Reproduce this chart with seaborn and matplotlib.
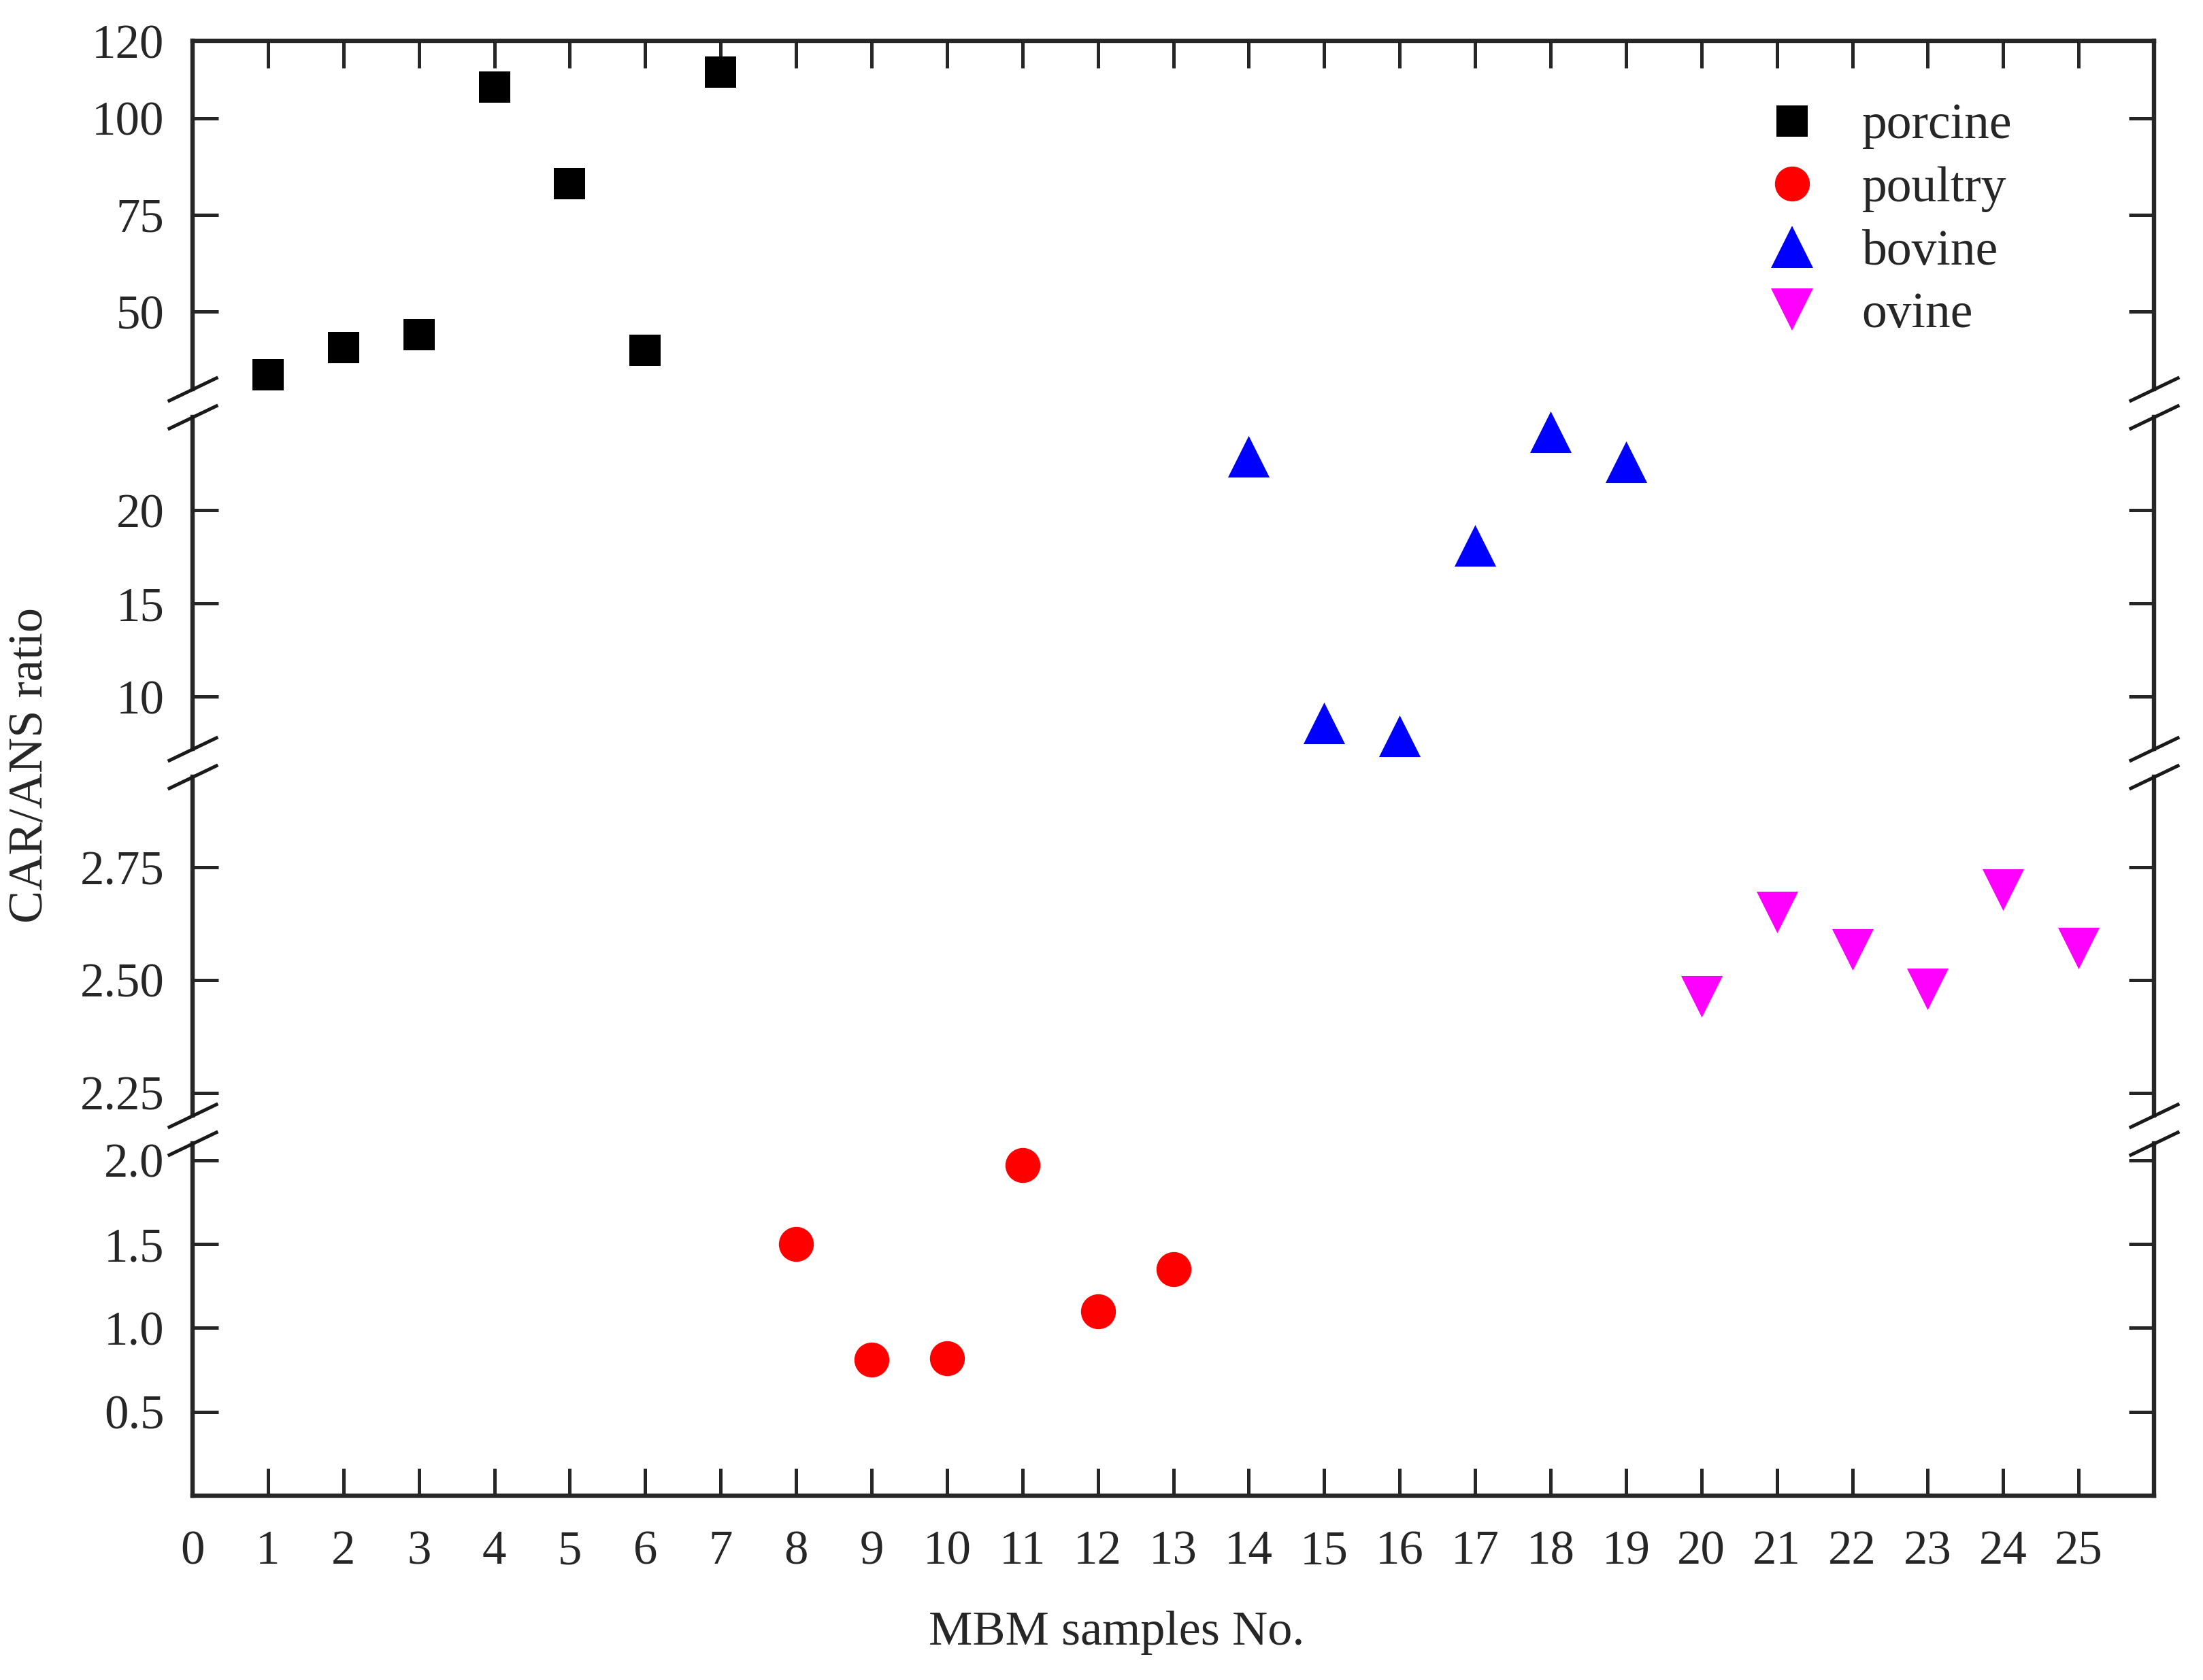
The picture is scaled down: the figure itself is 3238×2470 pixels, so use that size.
import numpy as np
import pandas as pd
import seaborn as sns
import matplotlib.pyplot as plt
from matplotlib.lines import Line2D

sns.set_theme(style='ticks')
plt.rcParams['font.family'] = ['Liberation Serif', 'DejaVu Serif']

# data
porcine_x = [1, 2, 3, 4, 5, 6, 7]
porcine_y = [33.6, 40.7, 44.1, 108.0, 83.0, 40.0, 112.0]
poultry_x = [8, 9, 10, 11, 12, 13]
poultry_y = [1.50, 0.81, 0.82, 1.97, 1.10, 1.35]
bovine_x = [14, 15, 16, 17, 18, 19]
bovine_y = [22.9, 8.6, 7.9, 18.1, 24.2, 22.6]
ovine_x = [20, 21, 22, 23, 24, 25]
ovine_y = [2.463, 2.65, 2.568, 2.48, 2.70, 2.57]

groups = ['porcine', 'poultry', 'bovine', 'ovine']
colors = {'porcine': '#000000', 'poultry': '#FF0000', 'bovine': '#0000FF', 'ovine': '#FF00FF'}
markers = {'porcine': 's', 'poultry': 'o', 'bovine': '^', 'ovine': 'v'}
msize = {'porcine': 33, 'poultry': 37, 'bovine': 44, 'ovine': 44}

df = pd.concat([
    pd.DataFrame({'sample': porcine_x, 'ratio': porcine_y, 'group': 'porcine'}),
    pd.DataFrame({'sample': poultry_x, 'ratio': poultry_y, 'group': 'poultry'}),
    pd.DataFrame({'sample': bovine_x, 'ratio': bovine_y, 'group': 'bovine'}),
    pd.DataFrame({'sample': ovine_x, 'ratio': ovine_y, 'group': 'ovine'}),
], ignore_index=True)

# broken y axis: one panel per range
seg_lims = [(30, 120), (7.2, 25), (2.2, 2.95), (0, 2.1)]
seg_ticks = [[50, 75, 100, 120], [10, 15, 20], [2.25, 2.50, 2.75], [0.5, 1.0, 1.5, 2.0]]
seg_fmt = ['{:.0f}', '{:.0f}', '{:.2f}', '{:.1f}']
x_ticks = list(range(0, 26))

fig, axes = plt.subplots(4, 1, sharex=True, figsize=(32.38, 24.70), dpi=100,
                         gridspec_kw={'height_ratios': [248, 236.5, 241, 251], 'hspace': 0.082})
fig.subplots_adjust(left=0.0874, right=0.9778, top=0.9757, bottom=0.1097)

lw = 4.6
for i, ax in enumerate(axes):
    lo, hi = seg_lims[i]
    sub = df[(df.ratio >= lo) & (df.ratio <= hi)]
    for g in groups:
        d = sub[sub.group == g]
        if len(d):
            sns.scatterplot(data=d, x='sample', y='ratio', color=colors[g], marker=markers[g],
                            s=msize[g] ** 2, linewidth=0, legend=False, clip_on=False, zorder=3, ax=ax)
    ax.set_ylim(lo, hi)
    ax.set_xlim(0, 26)
    ax.set_yticks(seg_ticks[i])
    ax.set_yticklabels([seg_fmt[i].format(t) for t in seg_ticks[i]])
    ax.set_xlabel('')
    ax.set_ylabel('')
    for s in ax.spines.values():
        s.set_linewidth(lw)
    ax.spines['top'].set_visible(i == 0)
    ax.spines['bottom'].set_visible(i == 3)
    ax.tick_params(axis='y', direction='in', left=True, right=True, length=27, width=3.6,
                   labelsize=51, pad=30)
    ax.tick_params(axis='x', direction='in', top=(i == 0), bottom=(i == 3), length=29, width=3.6,
                   labelsize=51, pad=36)
    if i < 3:
        ax.tick_params(axis='x', bottom=False, labelbottom=False)
    ax.set_xticks(x_ticks)
    ax.patch.set_alpha(0)

# break marks on both sides of each break
kw = dict(marker=[(-1, -0.48), (1, 0.48)], markersize=53, linestyle='none', color='k',
          mec='k', mew=3.6, clip_on=False, zorder=5)
for i in range(3):
    axes[i].plot([0, 1], [0, 0], transform=axes[i].transAxes, **kw)
    axes[i + 1].plot([0, 1], [1, 1], transform=axes[i + 1].transAxes, **kw)

handles = [Line2D([], [], linestyle='none', marker=markers[g], color=colors[g], mec=colors[g],
                  mew=0, markersize=msize[g]) for g in groups]
fig.legend(handles, groups, loc='upper left', bbox_to_anchor=(0.802, 0.9385), frameon=False,
           fontsize=53, handlelength=1.0, handletextpad=0.9, labelspacing=0.34,
           borderpad=0, borderaxespad=0)

fig.text(0.0139, 0.5445, 'CAR/ANS ratio', rotation=90, ha='center', va='center', fontsize=52)
fig.text(0.507, 0.0283, 'MBM samples No.', ha='center', va='center', fontsize=52)

fig.savefig('out.png', dpi=100)
